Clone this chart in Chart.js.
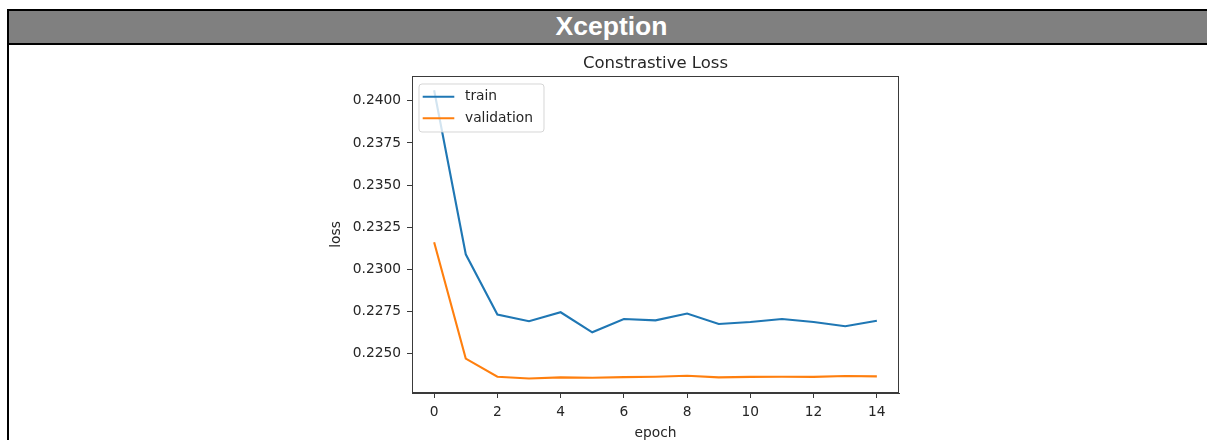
<!DOCTYPE html>
<html>
<head>
<meta charset="utf-8">
<script src="https://cdn.jsdelivr.net/npm/chart.js@4.4.1/dist/chart.umd.min.js"></script>
<style>
  html, body { margin: 0; padding: 0; background: #fff; }
  body { width: 1207px; height: 440px; position: relative; overflow: hidden; }
  #hdr { position: absolute; left: 7px; top: 9px; width: 1200px; height: 32px; background: #808080;
         border-top: 2px solid #000; border-bottom: 2px solid #000; }
  #vline { position: absolute; left: 7px; top: 9px; width: 2px; height: 431px; background: #000; }
  #htitle { position: absolute; left: 0; top: 11px; width: 1223px; height: 32px; line-height: 35px;
            text-align: center; color: #fff; font: bold 26.5px "Liberation Sans", Arial, sans-serif; }
  #wrap { position: absolute; left: 320px; top: 45px; width: 590px; height: 397px; background: #fff; }
</style>
</head>
<body>
<div id="hdr"></div>
<div id="vline"></div>
<div id="htitle">Xception</div>
<div id="wrap"><canvas id="c" width="590" height="397"></canvas></div>
<script>
const chartTitle = "Constrastive Loss";
const xLabel = "epoch";
const yLabel = "loss";
const epochs = [0, 1, 2, 3, 4, 5, 6, 7, 8, 9, 10, 11, 12, 13, 14];
const trainLoss = [0.24063, 0.23089, 0.22731, 0.22692, 0.22745, 0.22626, 0.22705, 0.22697, 0.22737, 0.22675, 0.22687, 0.22705, 0.22687, 0.22662, 0.22695];
const valLoss   = [0.23161, 0.22470, 0.22362, 0.22352, 0.22358, 0.22356, 0.22360, 0.22362, 0.22368, 0.22358, 0.22361, 0.22362, 0.22361, 0.22366, 0.22364];
const xTicks = [0, 2, 4, 6, 8, 10, 12, 14];
const yTicks = [0.2250, 0.2275, 0.2300, 0.2325, 0.2350, 0.2375, 0.2400];
const seriesNames = ["train", "validation"];
const seriesColors = ["#1f77b4", "#ff7f0e"];

const FONT = "'DejaVu Sans', sans-serif";
const TXT = "#262626";
const AX = "#3a3a3a";

const titlePlugin = {
  id: 'plotTitle',
  afterDraw(chart) {
    const {ctx, chartArea} = chart;
    ctx.save();
    ctx.font = "16.5px " + FONT;
    ctx.fillStyle = TXT;
    ctx.textAlign = 'center';
    ctx.textBaseline = 'middle';
    ctx.fillText(chartTitle, (chartArea.left + chartArea.right) / 2, chartArea.top - 12);
    ctx.restore();
  }
};

const framePlugin = {
  id: 'frame',
  afterDatasetsDraw(chart) {
    const {ctx, chartArea: a} = chart;
    ctx.save();
    ctx.strokeStyle = AX;
    ctx.lineWidth = 1;
    ctx.strokeRect(Math.round(a.left) + 0.5, Math.round(a.top) + 0.5,
                   Math.round(a.right - a.left) - 1, Math.round(a.bottom - a.top) - 1);
    ctx.restore();
  }
};

const legendPlugin = {
  id: 'innerLegend',
  afterDraw(chart) {
    const {ctx, chartArea: a} = chart;
    const bx = a.left + 7, by = a.top + 8, bw = 125, bh = 48, r = 3;
    ctx.save();
    ctx.beginPath();
    ctx.moveTo(bx + r, by);
    ctx.arcTo(bx + bw, by, bx + bw, by + bh, r);
    ctx.arcTo(bx + bw, by + bh, bx, by + bh, r);
    ctx.arcTo(bx, by + bh, bx, by, r);
    ctx.arcTo(bx, by, bx + bw, by, r);
    ctx.closePath();
    ctx.fillStyle = "rgba(255,255,255,0.8)";
    ctx.fill();
    ctx.strokeStyle = "rgba(204,204,204,0.8)";
    ctx.lineWidth = 1;
    ctx.stroke();
    ctx.font = "13.8px " + FONT;
    ctx.textBaseline = 'middle';
    ctx.textAlign = 'left';
    chart.data.datasets.forEach((ds, i) => {
      const y = a.top + 20.7 + i * 21.6;
      ctx.strokeStyle = ds.borderColor;
      ctx.lineWidth = 2;
      ctx.beginPath();
      ctx.moveTo(a.left + 10.7, y);
      ctx.lineTo(a.left + 42.3, y);
      ctx.stroke();
      ctx.fillStyle = TXT;
      ctx.fillText(ds.label, a.left + 53, y);
    });
    ctx.restore();
  }
};

const mk = (xs, ys) => xs.map((x, i) => ({x: x, y: ys[i]}));

new Chart(document.getElementById('c'), {
  type: 'line',
  data: {
    datasets: [
      { label: seriesNames[0], data: mk(epochs, trainLoss), borderColor: seriesColors[0], backgroundColor: seriesColors[0],
        borderWidth: 2.1, pointRadius: 0, tension: 0, fill: false },
      { label: seriesNames[1], data: mk(epochs, valLoss), borderColor: seriesColors[1], backgroundColor: seriesColors[1],
        borderWidth: 2.1, pointRadius: 0, tension: 0, fill: false }
    ]
  },
  options: {
    responsive: false,
    animation: false,
    devicePixelRatio: 1,
    layout: { padding: { top: 31, right: 11, left: 0, bottom: 0 } },
    plugins: { legend: { display: false }, title: { display: false }, tooltip: { enabled: false } },
    scales: {
      x: {
        type: 'linear', min: -0.7, max: 14.7,
        afterBuildTicks: s => { s.ticks = xTicks.map(v => ({value: v})); },
        afterFit: s => { s.height = 49; },
        ticks: { font: { family: FONT, size: 13.8 }, color: TXT, padding: 6, maxRotation: 0, autoSkip: false,
                 callback: v => String(v) },
        grid: { drawOnChartArea: false, tickLength: 5, color: AX, lineWidth: 1 },
        border: { display: true, color: AX, width: 1 },
        title: { display: true, text: xLabel, font: { family: FONT, size: 13.8 }, color: TXT, padding: { top: 0, bottom: 0 } }
      },
      y: {
        type: 'linear', min: 0.222655, max: 0.241476,
        afterBuildTicks: s => { s.ticks = yTicks.map(v => ({value: v})); },
        afterFit: s => { s.width = 92; },
        ticks: { font: { family: FONT, size: 13.8 }, color: TXT, padding: 6, autoSkip: false,
                 callback: v => Number(v).toFixed(4) },
        grid: { drawOnChartArea: false, tickLength: 5, color: AX, lineWidth: 1 },
        border: { display: true, color: AX, width: 1 },
        title: { display: true, text: yLabel, font: { family: FONT, size: 13.8 }, color: TXT, padding: { top: 8, bottom: 0 } }
      }
    }
  },
  plugins: [titlePlugin, framePlugin, legendPlugin]
});
</script>
</body>
</html>
